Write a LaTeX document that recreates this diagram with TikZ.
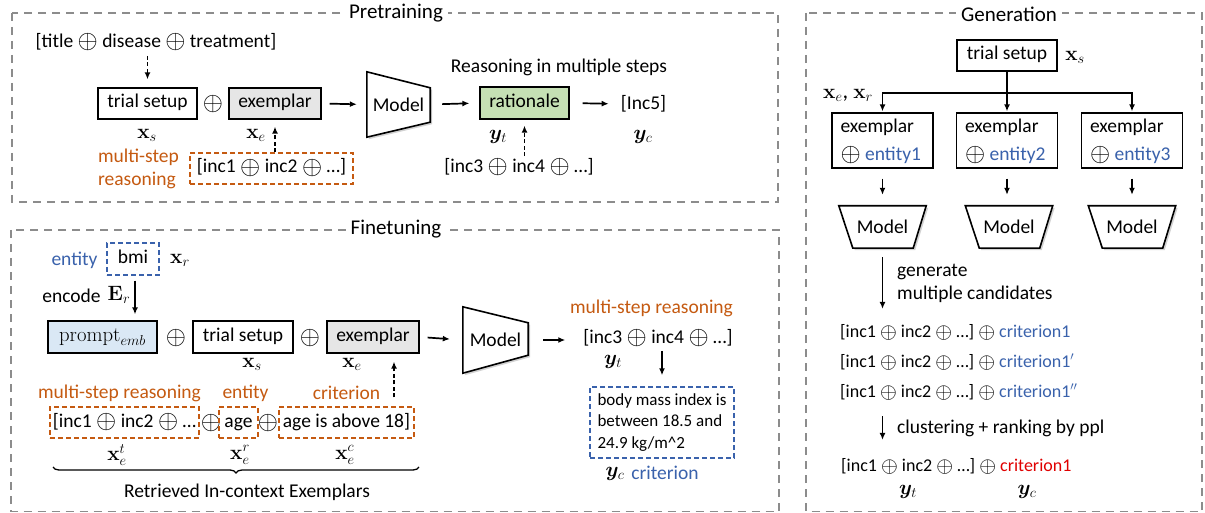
\documentclass[tikz,border=0pt]{standalone}
\usepackage{amsmath,bm,graphicx}
\usepackage[no-math]{fontspec}
\setmainfont{Carlito}
\usetikzlibrary{arrows.meta,shadows,decorations.pathreplacing,calc}
\definecolor{framec}{HTML}{8C8C8C}
\definecolor{orgc}{HTML}{C55A11}
\definecolor{bluc}{HTML}{3A62AC}
\definecolor{grayf}{HTML}{E6E6E6}
\definecolor{greenf}{HTML}{C5E0B4}
\definecolor{bluef}{HTML}{DAE8F5}
\definecolor{redc}{HTML}{E00000}
\newcommand{\opl}{\raisebox{-0.12ex}{\scalebox{1.25}{$\oplus$}}}
\begin{document}
\begin{tikzpicture}[x=1pt,y=-1pt,
 every node/.style={inner sep=0pt, font=\fontsize{19.5}{23}\selectfont},
 panel/.style={draw=framec, line width=1.8pt, dash pattern=on 8pt off 6pt},
 ptitle/.style={fill=white, inner xsep=5pt, inner ysep=2pt, font=\fontsize{21}{25}\selectfont},
 box/.style={draw, line width=1.3pt, fill=white},
 bl/.style={text height=13.5pt, text depth=4.5pt},
 arr/.style={-{Latex[length=7pt,width=6pt]}, line width=1.7pt},
 darr/.style={arr, dash pattern=on 4pt off 2.5pt},
 obox/.style={draw=orgc, line width=1.4pt, dash pattern=on 5pt off 3pt},
 bbox/.style={draw=bluc, line width=1.4pt, dash pattern=on 5pt off 3pt},
 trap/.style={draw, line width=1.6pt, fill=white, drop shadow={opacity=0.35, shadow xshift=2pt, shadow yshift=-2pt}},
 small/.style={font=\fontsize{18}{21}\selectfont},
 crit/.style={font=\fontsize{17}{21.5}\selectfont},
 mlab/.style={font=\fontsize{22.5}{26}\selectfont},
]
\useasboundingbox (0,0) rectangle (1205,513);
\fill[white] (0,0) rectangle (1205,513);

% ---------------- frames ----------------
\draw[panel] (12,13) rectangle (778,202);
\node[ptitle] (ttl1) at (396,13) {Pretraining};
\draw[panel] (11,230) rectangle (779,511.5);
\node[ptitle] (ttl2) at (396,229) {Finetuning};
\draw[panel] (806,13) rectangle (1202,511.5);
\node[ptitle] (ttl3) at (1009,14) {Generation};

% ---------------- Pretraining ----------------
\node (ptin) at (156,42) {[title \opl{} disease \opl{} treatment]};
\node[box, bl, minimum width=99pt, minimum height=31pt] (pts) at (147.5,103.5) {trial setup};
\node (pto) at (213,104) {\opl};
\node[box, bl, fill=grayf, minimum width=92pt, minimum height=31pt] (pte) at (275,103.5) {exemplar};
\node[mlab] (ptxs) at (147,135) {$\mathbf{x}_s$};
\node[mlab] (ptxe) at (256,135) {$\mathbf{x}_e$};
\node[orgc, align=left] (ptms) at (138.5,168.5) {multi-step\\reasoning};
\node[obox, bl, minimum width=163pt, minimum height=31pt] (ptr1) at (271.5,168.5) {[inc1 \opl{} inc2 \opl{} …]};
\node[minimum width=63pt, minimum height=65pt] (pm) at (398.5,104.5) {};
\path[trap] (pm.north west) -- ($(pm.north east)+(0,16)$) -- ($(pm.south east)+(0,-15)$) -- (pm.south west) -- cycle;
\node at (pm.center) {Model};
\node (ptrs) at (559,67) {Reasoning in multiple steps};
\node[box, bl, fill=greenf, minimum width=89pt, minimum height=32pt] (ptra) at (524.5,103) {rationale};
\node (ptc) at (643.5,104) {[Inc5]};
\node[mlab] (ptyt) at (498,137) {$\bm{y}_t$};
\node[mlab] (ptyc) at (643,137) {$\bm{y}_c$};
\node (pti3) at (519,167) {[inc3 \opl{} inc4 \opl{} …]};

\draw[darr, shorten <=5pt, shorten >=8pt] (ptin.south -| pts.center) -- (pts.north);
\draw[darr, shorten >=7pt] (ptr1.north -| pte.center) -- (pte.south);
\draw[arr, shorten <=8pt, shorten >=10pt] (pte.east) -- (pm.west);
\draw[arr, shorten <=12pt, shorten >=10pt] (pm.east) -- (ptra.west);
\draw[arr, shorten <=13pt, shorten >=12pt] (ptra.east) -- (ptc.west);
\draw[darr, shorten <=2pt, shorten >=6pt] (pti3.north -| ptra.center) -- (ptra.south);

% ---------------- Finetuning ----------------
\node[bluc] (fent) at (74.5,260) {entity};
\node[bbox, bl, minimum width=52pt, minimum height=32pt] (fbmi) at (133,259) {bmi};
\node[mlab] (fxr) at (180,260) {$\mathbf{x}_r$};
\node (fenc) at (71.5,296) {encode};
\node[mlab] (fer) at (119,295) {$\mathbf{E}_r$};
\node[box, fill=bluef, minimum width=109pt, minimum height=32pt, font=\fontsize{21.5}{25}\selectfont] (fpr) at (102.5,337) {$\mathrm{prompt}_{emb}$};
\node (fo1) at (176,338) {\opl};
\node[box, bl, minimum width=100pt, minimum height=32pt] (fts) at (243,337) {trial setup};
\node (fo2) at (310,338) {\opl};
\node[box, bl, fill=grayf, minimum width=92pt, minimum height=32pt] (fex) at (373,337) {exemplar};
\node[mlab] (fxs) at (252,364) {$\mathbf{x}_s$};
\node[mlab] (fxe) at (352,364) {$\mathbf{x}_e$};
\node[minimum width=65pt, minimum height=66pt] (fm) at (495.5,340) {};
\path[trap] (fm.north west) -- ($(fm.north east)+(0,16)$) -- ($(fm.south east)+(0,-18)$) -- (fm.south west) -- cycle;
\node at (fm.center) {Model};
\node[orgc] (fms) at (651.5,308) {multi-step reasoning};
\node (fi3) at (658,338) {[inc3 \opl{} inc4 \opl{} …]};
\node[mlab] (fyt) at (613,362) {$\bm{y}_t$};
\node[bbox, crit, minimum width=144pt, minimum height=71pt, align=left] (fcrit) at (662,422.5) {body mass index is\\between 18.5 and\\24.9 kg/m\^{}2};
\node[mlab] (fyc) at (615,474) {$\bm{y}_c$};
\node[bluc] (fcl) at (665,473) {criterion};

\node[orgc] (fl1) at (119.5,393) {multi-step reasoning};
\node[orgc] (fl2) at (245.5,393) {entity};
\node[orgc] (fl3) at (346.5,393) {criterion};
\node[obox, bl, minimum width=149pt, minimum height=31pt] (fb1) at (124.5,422.5) {[inc1 \opl{} inc2 \opl{} …};
\node (fo3) at (211,423) {\opl};
\node[obox, bl, minimum width=39pt, minimum height=31pt] (fb2) at (238.5,422.5) {age};
\node (fo4) at (268,423) {\opl};
\node[obox, bl, minimum width=135pt, minimum height=31pt] (fb3) at (346.5,422.5) {age is above 18]};
\node[mlab] (fxt) at (117,455) {$\mathbf{x}_e^t$};
\node[mlab] (fxrr) at (240,455) {$\mathbf{x}_e^r$};
\node[mlab] (fxc) at (345,455) {$\mathbf{x}_e^c$};
\draw[line width=1.3pt, decorate, decoration={brace, mirror, amplitude=6pt}] (53,467) -- (419,467);
\node (fret) at (247,492) {Retrieved In-context Exemplars};

\draw[arr, shorten <=5pt, shorten >=6pt] (fbmi.south -| 135,0) -- (fpr.north -| 135,0);
\draw[darr, shorten <=9pt, shorten >=8pt] (fb3.north -| 394,0) -- (fex.south -| 394,0);
\draw[arr, shorten <=8pt, shorten >=13pt] (fex.east) -- (fm.west);
\draw[arr, shorten <=15pt, shorten >=18pt] (fm.east) -- (fm.east -| fi3.west);
\draw[arr, shorten <=4pt, shorten >=11pt] (fi3.south -| fcrit.north) -- (fcrit.north);

% ---------------- Generation ----------------
\node[box, bl, minimum width=100pt, minimum height=31pt] (gts) at (1007,55.5) {trial setup};
\node[mlab] (gxs) at (1075,57) {$\mathbf{x}_s$};
\node[mlab] (gxer) at (848,95) {$\mathbf{x}_e$, $\mathbf{x}_r$};
\foreach \i/\cx/\mx in {1/882.5/882.5, 2/1007/1009, 3/1132/1132} {
  \node[box, minimum width=101pt, minimum height=55pt] (ge\i) at (\cx,140.5) {};
  \node[anchor=west] (gex\i) at ($(ge\i.west)+(9,-13.5)$) {exemplar};
  \node[anchor=west] (gen\i) at ($(ge\i.west)+(9,14.5)$) {\opl{} \textcolor{bluc}{entity\i}};
  \node[minimum width=87pt, minimum height=42pt] (gm\i) at (\mx,227) {};
  \path[trap] (gm\i.north west) -- (gm\i.north east) -- ($(gm\i.south east)+(-13,0)$) -- ($(gm\i.south west)+(14,0)$) -- cycle;
  \node at (gm\i.center) {Model};
  \draw[arr, shorten <=10pt, shorten >=11pt] (ge\i.south) -- (ge\i.south |- gm\i.north);
}
\coordinate (gsplit) at (1007,93);
\draw[arr, shorten >=1pt] (gts.south) -- (ge2.north);
\draw[arr, shorten >=1pt] (gsplit) -| (ge1.north);
\draw[arr, shorten >=1pt] (gsplit) -| (ge3.north);

\node[anchor=west, align=left] (ggen) at (897,283.5) {generate\\multiple candidates};
\node[small, anchor=west] (gc1) at (840,332) {[inc1 \opl{} inc2 \opl{} …] \opl{} \textcolor{bluc}{criterion1}};
\node[small, anchor=west] (gc2) at (840,362) {[inc1 \opl{} inc2 \opl{} …] \opl{} \textcolor{bluc}{criterion1$'$}};
\node[small, anchor=west] (gc3) at (840,392) {[inc1 \opl{} inc2 \opl{} …] \opl{} \textcolor{bluc}{criterion1$''$}};
\node[anchor=west] (gcl) at (897,428) {clustering + ranking by ppl};
\node[small, anchor=west] (gf) at (841,466) {[inc1 \opl{} inc2 \opl{} …] \opl{} \textcolor{redc}{criterion1}};
\node[mlab] (gyt) at (908,492) {$\bm{y}_t$};
\node[mlab] (gyc) at (1027,492) {$\bm{y}_c$};

\draw[arr, shorten <=9pt, shorten >=15pt] (gm1.south) -- (gm1.south |- gc1.north);
\draw[arr, shorten <=16pt, shorten >=18pt] (gc3.south -| gm1.south) -- (gf.north -| gm1.south);
\end{tikzpicture}
\end{document}
